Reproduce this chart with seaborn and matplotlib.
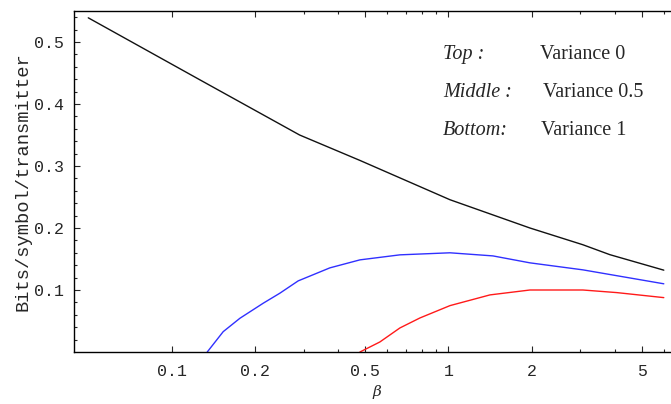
import matplotlib
matplotlib.use("Agg")
import matplotlib.pyplot as plt
import seaborn as sns
from matplotlib.ticker import FixedLocator, NullFormatter

# Datos (beta, bits/symbol/transmitter)
beta_top = [0.05, 0.1265, 0.29, 0.479, 1.013, 1.97, 3.06, 3.83, 6.0]
bits_top = [0.539, 0.439, 0.350, 0.309, 0.2456, 0.200, 0.173, 0.157, 0.132]

beta_mid = [0.1345, 0.1536, 0.1765, 0.2143, 0.246, 0.2866, 0.373, 0.479,
            0.668, 1.013, 1.448, 1.97, 3.06, 6.0]
bits_mid = [0.0, 0.0328, 0.0544, 0.0787, 0.0948, 0.1147, 0.1357, 0.1486,
            0.1567, 0.160, 0.155, 0.1438, 0.1325, 0.110]

beta_bot = [0.479, 0.5655, 0.668, 0.789, 1.013, 1.413, 1.97, 3.06, 4.06, 6.0]
bits_bot = [0.0, 0.0162, 0.0388, 0.0549, 0.0748, 0.0921, 0.100, 0.100,
            0.0958, 0.0877]

xticks = [0.1, 0.2, 0.5, 1, 2, 5]
xtick_labels = ["0.1", "0.2", "0.5", "1", "2", "5"]
xminor = [0.3, 0.4, 0.6, 0.7, 0.8, 0.9, 3, 4, 6]
yticks = [0.1, 0.2, 0.3, 0.4, 0.5]
ytick_labels = ["0.1", "0.2", "0.3", "0.4", "0.5"]
yminor = [0.02, 0.04, 0.06, 0.08, 0.12, 0.14, 0.16, 0.18, 0.22, 0.24, 0.26,
          0.28, 0.32, 0.34, 0.36, 0.38, 0.42, 0.44, 0.46, 0.48, 0.52, 0.54]

legend_names = ["Top :", "Middle :", "Bottom:"]
legend_vals = ["Variance 0", "Variance 0.5", "Variance 1"]

sns.set_style("ticks")
plt.rcParams["font.family"] = ["Liberation Mono", "DejaVu Sans Mono"]

fig = plt.figure(figsize=(6.71, 4.04), dpi=100)
ax = fig.add_axes([74 / 671, 52 / 404, 597 / 671, 341 / 404])

sns.lineplot(x=beta_top, y=bits_top, ax=ax, color="#111111", lw=1.0)
sns.lineplot(x=beta_mid, y=bits_mid, ax=ax, color="#3030ff", lw=1.0)
sns.lineplot(x=beta_bot, y=bits_bot, ax=ax, color="#ff1a1a", lw=1.0)

ax.set_xscale("log")
ax.set_xlim(0.0444, 6.37)
ax.set_ylim(0, 0.55)

ax.xaxis.set_major_locator(FixedLocator(xticks))
ax.set_xticklabels(xtick_labels)
ax.xaxis.set_minor_locator(FixedLocator(xminor))
ax.xaxis.set_minor_formatter(NullFormatter())
ax.yaxis.set_major_locator(FixedLocator(yticks))
ax.set_yticklabels(ytick_labels)
ax.yaxis.set_minor_locator(FixedLocator(yminor))

for s in ["left", "bottom", "top"]:
    ax.spines[s].set_linewidth(1.0)
    ax.spines[s].set_color("black")
ax.spines["right"].set_visible(False)

ax.tick_params(axis="x", which="both", direction="in", top=True, bottom=True,
               labelsize=12, pad=9, width=0.8)
ax.tick_params(axis="y", which="both", direction="in", left=True, right=False,
               labelsize=12, pad=7, width=0.8)
ax.tick_params(which="major", length=4)
ax.tick_params(which="minor", length=2.5)

ax.set_ylabel("Bits/symbol/transmitter", fontsize=13.5)
ax.yaxis.set_label_coords(-0.072, 0.5)
ax.set_xlabel("β", fontsize=11, fontstyle="italic", family="DejaVu Serif")
ax.xaxis.set_label_coords(0.5075, -0.098)

ys = [0.864, 0.770, 0.678]
xv = [0.805, 0.809, 0.807]
for name, val, y, x in zip(legend_names, legend_vals, ys, xv):
    fig.text(0.66, y, name, family="Liberation Serif", fontstyle="italic",
             fontsize=14.5, va="center")
    fig.text(x, y, val, family="Liberation Serif", fontsize=14.5, va="center")

fig.savefig("out.png", dpi=100, facecolor="white")
